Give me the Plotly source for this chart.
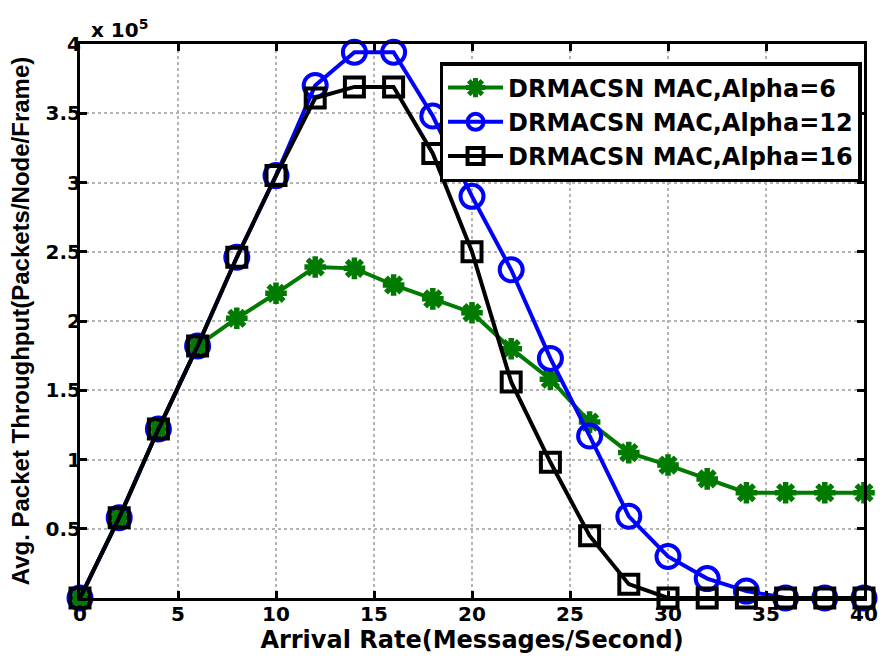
import plotly.graph_objects as go

x = list(range(0, 41, 2))
alpha6 = [0, 0.58, 1.22, 1.82, 2.02, 2.20, 2.39, 2.38, 2.26, 2.16, 2.06, 1.80, 1.58, 1.27, 1.05, 0.96, 0.86, 0.76, 0.76, 0.76, 0.76]
alpha12 = [0, 0.58, 1.22, 1.82, 2.46, 3.05, 3.70, 3.94, 3.94, 3.48, 2.90, 2.37, 1.73, 1.17, 0.59, 0.30, 0.14, 0.05, 0.0, 0.0, 0.0]
alpha16 = [0, 0.58, 1.22, 1.82, 2.46, 3.05, 3.61, 3.69, 3.69, 3.21, 2.50, 1.56, 0.98, 0.45, 0.10, 0.0, 0.0, 0.0, 0.0, 0.0, 0.0]
names = ["DRMACSN MAC,Alpha=6", "DRMACSN MAC,Alpha=12", "DRMACSN MAC,Alpha=16"]
yticks = [0.5, 1, 1.5, 2, 2.5, 3, 3.5, 4]
yticklabels = ["0.5", "1", "1.5", "2", "2.5", "3", "3.5", "4"]
xticks = [0, 5, 10, 15, 20, 25, 30, 35, 40]

FONT = "DejaVu Sans, sans-serif"
FONT_A = "Liberation Sans, Arial, sans-serif"

fig = go.Figure()
fig.add_trace(go.Scatter(x=x, y=alpha6, name=names[0], mode="lines+markers", cliponaxis=False,
                         line=dict(color="#007a00", width=4),
                         marker=dict(symbol="asterisk-open", size=18, line=dict(color="#007a00", width=5.5))))
fig.add_trace(go.Scatter(x=x, y=alpha12, name=names[1], mode="lines+markers", cliponaxis=False,
                         line=dict(color="#0000ff", width=4),
                         marker=dict(symbol="circle-open", size=23, line=dict(color="#0000ff", width=4))))
fig.add_trace(go.Scatter(x=x, y=alpha16, name=names[2], mode="lines+markers", cliponaxis=False,
                         line=dict(color="#000000", width=4),
                         marker=dict(symbol="square-open", size=19, line=dict(color="#000000", width=4))))

axis_common = dict(showline=True, linecolor="black", linewidth=3, mirror="allticks",
                   ticks="inside", ticklen=7, tickwidth=3, tickcolor="black",
                   showgrid=True, gridcolor="#b4b4b4", gridwidth=1.5, griddash="dot",
                   zeroline=False,
                   tickfont=dict(family=FONT, size=20, color="black", weight="bold"))

fig.update_xaxes(range=[0, 40], tickvals=xticks, **axis_common, ticklabelstandoff=-4,
                 title=dict(text="Arrival Rate(Messages/Second)", standoff=0,
                            font=dict(family=FONT, size=24, color="black", weight="bold")))
fig.update_yaxes(range=[0, 4], tickvals=yticks, ticktext=yticklabels, **axis_common, ticklabelstandoff=-8,
                 title=dict(text="Avg. Packet Throughput(Packets/Node/Frame)", standoff=10,
                            font=dict(family=FONT_A, size=24, color="black", weight="bold")))

fig.add_annotation(xref="paper", yref="paper", x=0.012, y=1.0, xanchor="left", yanchor="bottom",
                   text="x 10<sup>5</sup>", showarrow=False,
                   font=dict(family=FONT, size=20, color="black", weight="bold"))

fig.update_layout(
    width=890, height=658,
    margin=dict(l=80, r=14, t=44, b=60),
    paper_bgcolor="white", plot_bgcolor="white",
    showlegend=True,
    legend=dict(x=0.4586, y=0.9675, xanchor="left", yanchor="top",
                bgcolor="white", bordercolor="black", borderwidth=3.5,
                font=dict(family=FONT, size=24, color="black", weight="bold"),
                itemwidth=55, tracegroupgap=0),
)

fig.write_html("out.html")
